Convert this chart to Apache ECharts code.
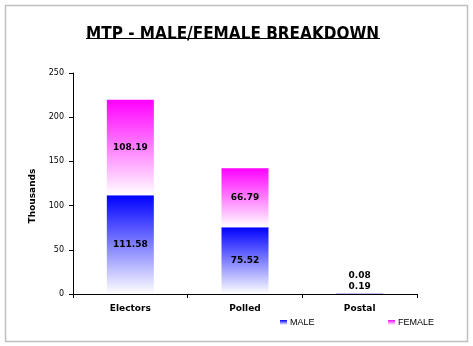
<!DOCTYPE html>
<html>
<head>
<meta charset="utf-8">
<script src="https://cdn.jsdelivr.net/npm/echarts@6/dist/echarts.min.js"></script>
<style>
  html, body { margin: 0; padding: 0; background: #fff; }
  #chart { width: 473px; height: 346px; }
</style>
</head>
<body>
<div id="chart"></div>
<script>
// Electors / polled / postal counts, in thousands
const categories = ['Electors', 'Polled', 'Postal'];
const maleValues = [111.58, 75.52, 0.19];
const femaleValues = [108.19, 66.79, 0.08];
const yTicks = { min: 0, max: 250, interval: 50 };

const chart = echarts.init(document.getElementById('chart'));

function fade(top) {
  return new echarts.graphic.LinearGradient(0, 0, 0, 1, [
    { offset: 0, color: top },
    { offset: 1, color: '#ffffff' }
  ]);
}

const labelFont = {
  fontFamily: '"DejaVu Sans", Verdana, sans-serif',
  fontWeight: 'bold',
  fontSize: 9,
  color: '#000'
};

const legendText = {
  fontFamily: '"Liberation Sans", Arial, sans-serif',
  fontSize: 9,
  color: '#000',
  padding: [0, 0, 0, -2]
};

// tiny bars get their labels stacked just above the axis
function buildData(values, tinyDistance) {
  return values.map(v => {
    if (v < 1) {
      return { value: v, label: { position: 'top', distance: tinyDistance } };
    }
    return v;
  });
}

chart.setOption({
  animation: false,
  backgroundColor: '#fff',
  title: {
    text: 'MTP - MALE/FEMALE BREAKDOWN',
    left: 81,
    top: 21,
    textStyle: {
      fontFamily: '"DejaVu Sans Condensed", "Liberation Sans", Arial, sans-serif',
      fontWeight: 'bold',
      fontSize: 17,
      color: '#000'
    }
  },
  graphic: [
    {
      type: 'rect',
      shape: { x: 5.5, y: 5.5, width: 462, height: 336 },
      style: { fill: 'none', stroke: '#c0c0c0', lineWidth: 1.5 },
      silent: true
    },
    {
      type: 'line',
      shape: { x1: 86, y1: 38.5, x2: 380, y2: 38.5 },
      style: { stroke: '#000', lineWidth: 1 },
      silent: true
    }
  ],
  legend: [
    {
      data: ['MALE'],
      left: 275,
      top: 313,
      itemWidth: 7,
      itemHeight: 5,
      icon: 'rect',
      textStyle: legendText
    },
    {
      data: ['FEMALE'],
      left: 383,
      top: 313,
      itemWidth: 7,
      itemHeight: 5,
      icon: 'rect',
      textStyle: legendText
    }
  ],
  grid: { left: 73, right: 56, top: 73, bottom: 52, containLabel: false },
  xAxis: {
    type: 'category',
    data: categories,
    axisLine: { lineStyle: { color: '#000', width: 1 } },
    axisTick: { show: true, length: 4, lineStyle: { color: '#000' } },
    axisLabel: { margin: 10, ...labelFont }
  },
  yAxis: {
    type: 'value',
    min: yTicks.min,
    max: yTicks.max,
    interval: yTicks.interval,
    name: 'Thousands',
    nameLocation: 'middle',
    nameRotate: 90,
    nameGap: 36,
    nameTextStyle: { ...labelFont, padding: [0, 25, 0, 0] },
    splitLine: { show: false },
    axisLine: { show: true, lineStyle: { color: '#000', width: 1 } },
    axisTick: { show: true, length: 4, lineStyle: { color: '#000' } },
    axisLabel: {
      margin: 9,
      fontFamily: '"DejaVu Sans", Verdana, sans-serif',
      fontSize: 8,
      color: '#000'
    }
  },
  series: [
    {
      name: 'MALE',
      type: 'bar',
      stack: 'total',
      barWidth: 47,
      data: buildData(maleValues, 3),
      itemStyle: { color: fade('#0000ff') },
      label: { show: true, position: 'inside', ...labelFont }
    },
    {
      name: 'FEMALE',
      type: 'bar',
      stack: 'total',
      barWidth: 47,
      data: buildData(femaleValues, 14),
      itemStyle: { color: fade('#ff00ff') },
      label: { show: true, position: 'inside', ...labelFont }
    }
  ]
});
</script>
</body>
</html>
